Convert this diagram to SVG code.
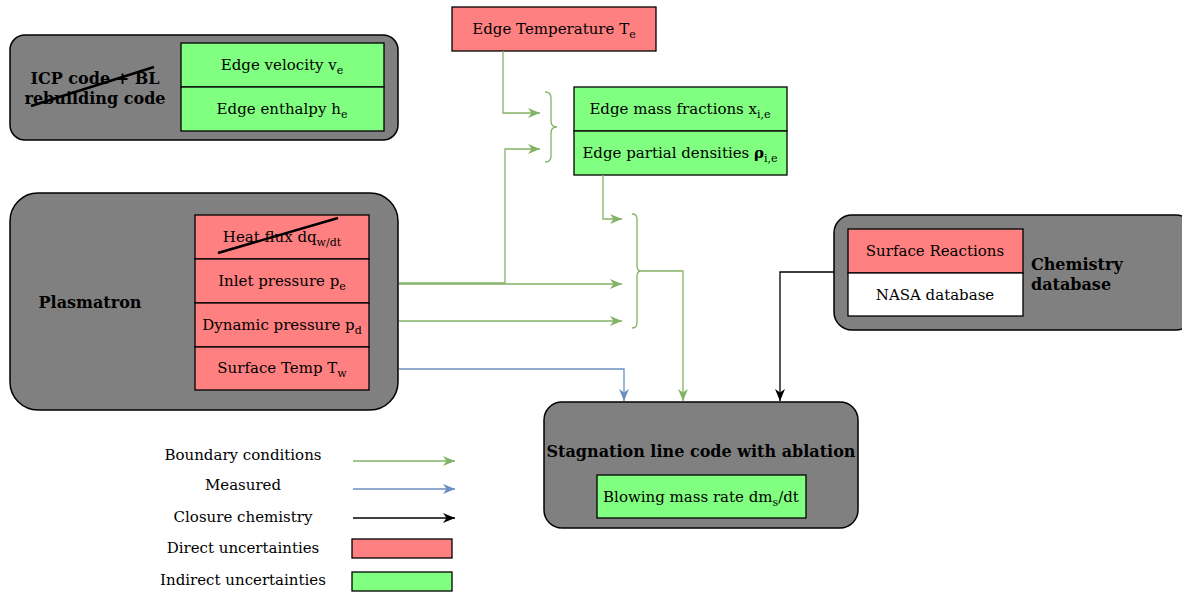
<svg xmlns="http://www.w3.org/2000/svg" width="1182" height="592" viewBox="0 0 1182 592">
<style>
text{font-family:"DejaVu Serif","Liberation Serif",serif;font-size:15px;fill:#000;text-anchor:middle}
.b{font-weight:bold;font-size:16px}
.l{text-anchor:start}
.grp{fill:#808080;stroke:#000;stroke-width:1.5}
.red{fill:#ff8080;stroke:#000;stroke-width:1.3}
.grn{fill:#80ff80;stroke:#000;stroke-width:1.3}
.wht{fill:#fff;stroke:#000;stroke-width:1.3}
.g{fill:none;stroke:#82b366;stroke-width:1.3}
.bl{fill:none;stroke:#6c8ebf;stroke-width:1.3}
.k{fill:none;stroke:#000;stroke-width:1.3}
.strike{stroke:#000;stroke-width:2.5}
.sub{font-size:11px}
.rho{font-weight:bold}
</style>
<defs>
<marker id="ag" viewBox="0 0 12 10" refX="12" refY="5" markerWidth="12" markerHeight="10" markerUnits="userSpaceOnUse" orient="auto"><path d="M0,0 L12,5 L0,10 L3.5,5 Z" fill="#82b366"/></marker>
<marker id="ab" viewBox="0 0 12 10" refX="12" refY="5" markerWidth="12" markerHeight="10" markerUnits="userSpaceOnUse" orient="auto"><path d="M0,0 L12,5 L0,10 L3.5,5 Z" fill="#6c8ebf"/></marker>
<marker id="ak" viewBox="0 0 12 10" refX="12" refY="5" markerWidth="12" markerHeight="10" markerUnits="userSpaceOnUse" orient="auto"><path d="M0,0 L12,5 L0,10 L3.5,5 Z" fill="#000"/></marker>
</defs>

<g id="icp">
<rect class="grp" x="10" y="35" width="388" height="105" rx="15"/>
<text class="b" x="95" y="84">ICP code + BL</text>
<text class="b" x="95" y="104">rebuilding code</text>
<line class="strike" x1="31" y1="106" x2="154" y2="67"/>
<rect class="grn" x="181" y="43" width="203" height="44"/>
<text x="282" y="70">Edge velocity v<tspan class="sub" dy="4">e</tspan></text>
<rect class="grn" x="181" y="87" width="203" height="44"/>
<text x="282" y="114">Edge enthalpy h<tspan class="sub" dy="4">e</tspan></text>
</g>

<g id="plasmatron">
<rect class="grp" x="10" y="193" width="388" height="217" rx="28"/>
<text class="b" x="90" y="308">Plasmatron</text>
<rect class="red" x="195" y="215" width="174" height="44"/>
<text x="282" y="242">Heat flux dq<tspan class="sub" dy="4">w/dt</tspan></text>
<line class="strike" x1="218" y1="253" x2="338" y2="218"/>
<rect class="red" x="195" y="259" width="174" height="44"/>
<text x="282" y="286">Inlet pressure p<tspan class="sub" dy="4">e</tspan></text>
<rect class="red" x="195" y="303" width="174" height="44"/>
<text x="282" y="330">Dynamic pressure p<tspan class="sub" dy="4">d</tspan></text>
<rect class="red" x="195" y="347" width="174" height="43"/>
<text x="282" y="373">Surface Temp T<tspan class="sub" dy="4">w</tspan></text>
</g>

<g id="edgeTemp">
<rect class="red" x="452" y="7" width="204" height="44"/>
<text x="554" y="34">Edge Temperature T<tspan class="sub" dy="4">e</tspan></text>
</g>

<g id="edgeMass">
<rect class="grn" x="574" y="87" width="213" height="44"/>
<text x="680" y="114">Edge mass fractions x<tspan class="sub" dy="4">i,e</tspan></text>
<rect class="grn" x="574" y="131" width="213" height="44"/>
<text x="680" y="158">Edge partial densities <tspan class="rho">ρ</tspan><tspan class="sub" dy="4">i,e</tspan></text>
</g>

<g id="chemistry">
<rect class="grp" x="834" y="215" width="360" height="115" rx="18"/>
<rect class="red" x="848" y="229" width="175" height="44"/>
<text x="935" y="256">Surface Reactions</text>
<rect class="wht" x="848" y="273" width="175" height="43"/>
<text x="935" y="300">NASA database</text>
<text class="b l" x="1031" y="270">Chemistry</text>
<text class="b l" x="1031" y="290">database</text>
</g>

<g id="stagnation">
<rect class="grp" x="544" y="402" width="314" height="126" rx="18"/>
<text class="b" x="701" y="457">Stagnation line code with ablation</text>
<rect class="grn" x="597" y="475" width="209" height="43"/>
<text x="701" y="502">Blowing mass rate dm<tspan class="sub" dy="4">s</tspan><tspan dy="-4">/dt</tspan></text>
</g>

<g id="connectors">
<path class="g" d="M545,92 q6,0 6,6 v23 q0,6 6,6 q-6,0 -6,6 v23 q0,6 -6,6"/>
<path class="g" d="M632,214 q5,0 5,5 v47 q0,5 4,5 q-4,0 -4,5 v47 q0,5 -5,5"/>
<path class="g" d="M503,51 V113 H540" marker-end="url(#ag)"/>
<path class="g" d="M399,283 H505 V149 H540" marker-end="url(#ag)"/>
<path class="g" d="M399,284 H622" marker-end="url(#ag)"/>
<path class="g" d="M603,175 V219 H622" marker-end="url(#ag)"/>
<path class="g" d="M399,321 H622" marker-end="url(#ag)"/>
<path class="g" d="M641,271 H683 V401" marker-end="url(#ag)"/>
<path class="bl" d="M399,369 H624 V401" marker-end="url(#ab)"/>
<path class="k" d="M834,272 H780 V401" marker-end="url(#ak)"/>
</g>

<g id="legend">
<text x="243" y="460">Boundary conditions</text>
<path class="g" d="M353,461 H455" marker-end="url(#ag)"/>
<text x="243" y="490">Measured</text>
<path class="bl" d="M353,489 H455" marker-end="url(#ab)"/>
<text x="243" y="522">Closure chemistry</text>
<path class="k" d="M353,518 H455" marker-end="url(#ak)"/>
<text x="243" y="553">Direct uncertainties</text>
<rect class="red" x="352" y="539" width="100" height="19"/>
<text x="243" y="585">Indirect uncertainties</text>
<rect class="grn" x="352" y="572" width="100" height="19"/>
</g>
</svg>
